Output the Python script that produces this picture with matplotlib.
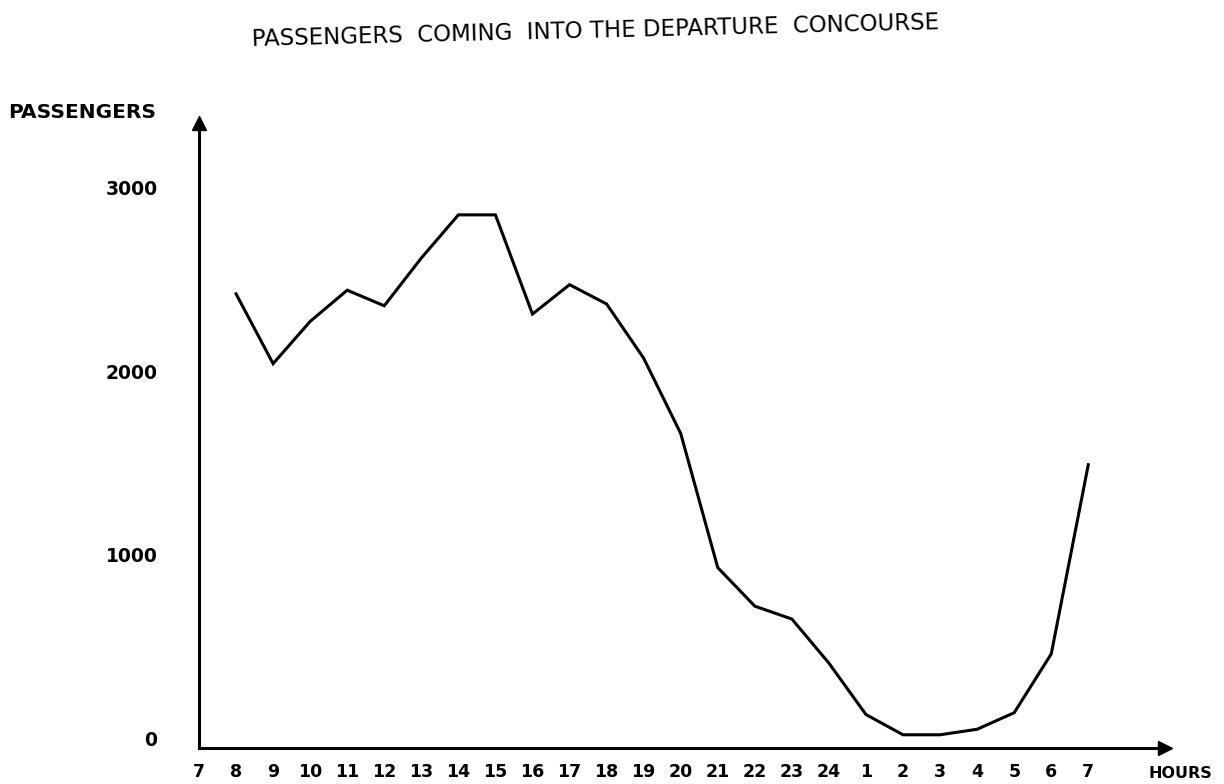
import matplotlib
matplotlib.use("Agg")
import matplotlib.pyplot as plt

# Data
hour_labels = ["7", "8", "9", "10", "11", "12", "13", "14", "15", "16", "17", "18",
               "19", "20", "21", "22", "23", "24", "1", "2", "3", "4", "5", "6", "7"]
data_hours = ["8", "9", "10", "11", "12", "13", "14", "15", "16", "17", "18", "19",
              "20", "21", "22", "23", "24", "1", "2", "3", "4", "5", "6", "7"]
passengers = [2420, 2040, 2270, 2440, 2355, 2615, 2850, 2850, 2310, 2470, 2365, 2070,
              1660, 930, 720, 650, 410, 130, 20, 20, 50, 140, 460, 1490]
y_ticks = [0, 1000, 2000, 3000]

W, H = 1224, 784
fig = plt.figure(figsize=(W / 100, H / 100), dpi=100)
left, right = 199 / W, 1165 / W
bottom, top = 1 - 748 / H, 1 - 123 / H
ax = fig.add_axes([left, bottom, right - left, top - bottom])

x_pos = list(range(1, len(data_hours) + 1))
ax.plot(x_pos, passengers, color="black", lw=2.2, solid_joinstyle="miter")

ax.set_xlim(0, 26.07)
ax.set_ylim(-52, 3350)

for s in ["top", "right"]:
    ax.spines[s].set_visible(False)
for s in ["left", "bottom"]:
    ax.spines[s].set_linewidth(2.2)
    ax.spines[s].set_color("black")

# arrow heads
ax.plot(1, 0, marker=">", color="black", markersize=10, transform=ax.transAxes, clip_on=False)
ax.plot(0, 1, marker="^", color="black", markersize=10, transform=ax.transAxes, clip_on=False)

font = "DejaVu Sans"
ax.set_xticks(range(len(hour_labels)))
ax.set_xticklabels(hour_labels, fontsize=12.5, fontweight="bold", family=font)
ax.set_yticks(y_ticks)
ax.set_yticklabels([str(v) for v in y_ticks], fontsize=13.5, fontweight="bold", family=font)
ax.tick_params(axis="x", length=0, pad=11)
ax.tick_params(axis="y", length=0, pad=30)

fig.text(8 / W, 1 - 113 / H, "PASSENGERS", fontsize=14.5, fontweight="bold", family=font,
         ha="left", va="center")
fig.text(1148 / W, 1 - 773 / H, "HOURS", fontsize=11.5, fontweight="bold", family=font,
         ha="left", va="center")
fig.text(595 / W, 1 - 31 / H, "PASSENGERS  COMING  INTO THE DEPARTURE  CONCOURSE",
         fontsize=16.5, family=font, ha="center", va="center", rotation=1.4)

fig.savefig("out.png", dpi=100, facecolor="white")
